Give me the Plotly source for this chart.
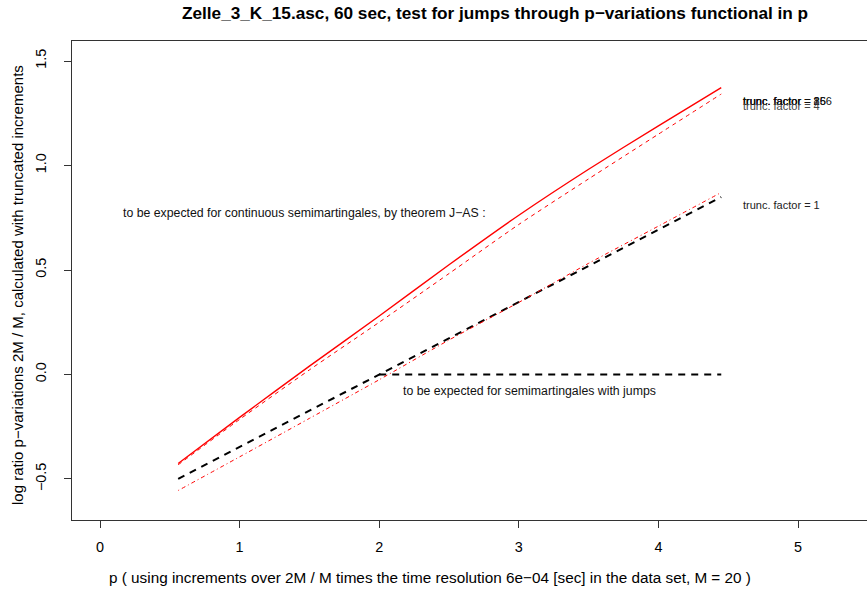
import plotly.graph_objects as go

# p grid and log ratios of the truncated p-variations (2M / M)
p = [0.56, 1.0, 1.5, 2.0, 2.5, 3.0, 3.5, 4.0, 4.45]
ratio_high = [-0.426, -0.205, 0.040, 0.280, 0.525, 0.762, 0.982, 1.190, 1.373]
ratio_f4 = [-0.432, -0.215, 0.022, 0.250, 0.483, 0.718, 0.936, 1.150, 1.342]
ratio_f1 = [-0.555, -0.394, -0.210, -0.025, 0.165, 0.345, 0.532, 0.710, 0.871]

# reference lines: continuous semimartingales and semimartingales with jumps
cont_p = [0.56, 4.45]
cont_val = [-0.499, 0.849]
jump_p = [2.0, 4.45]
jump_val = [0.0, 0.0]

# end-of-curve labels
label_text = ["trunc. factor = 256", "trunc. factor = 16", "trunc. factor = 8",
              "trunc. factor = 4", "trunc. factor = 1"]
label_y = [1.311, 1.311, 1.311, 1.284, 0.813]
label_col = ["#111111", "#111111", "#111111", "#444444", "#222222"]

x_ticks = [0, 1, 2, 3, 4, 5]
y_ticks = [-0.5, 0.0, 0.5, 1.0, 1.5]

FONT = "Liberation Sans, Arial, Helvetica, sans-serif"

fig = go.Figure()
fig.add_trace(go.Scatter(x=cont_p, y=cont_val, mode="lines",
                         line=dict(color="black", width=2, dash="7px,6px")))
fig.add_trace(go.Scatter(x=jump_p, y=jump_val, mode="lines",
                         line=dict(color="black", width=2, dash="7px,6px")))
fig.add_trace(go.Scatter(x=p, y=ratio_f1, mode="lines",
                         line=dict(color="red", width=1, dash="1px,3px,4px,3px",
                                   shape="spline", smoothing=0.6)))
fig.add_trace(go.Scatter(x=p, y=ratio_f4, mode="lines",
                         line=dict(color="red", width=1, dash="4px,4px",
                                   shape="spline", smoothing=0.6)))
fig.add_trace(go.Scatter(x=p, y=ratio_high, mode="lines",
                         line=dict(color="red", width=1.4,
                                   shape="spline", smoothing=0.6)))

ann = []
for t, yv, c in zip(label_text, label_y, label_col):
    ann.append(dict(x=4.592, y=yv, xref="x", yref="y", text=t, showarrow=False,
                    xanchor="left", yanchor="middle",
                    font=dict(family=FONT, size=11, color=c)))
ann.append(dict(x=1.465, y=0.775, xref="x", yref="y",
                text="to be expected for continuous semimartingales, by theorem J\u2212AS :",
                showarrow=False, xanchor="center", yanchor="middle",
                font=dict(family=FONT, size=12.3, color="#111111")))
ann.append(dict(x=3.073, y=-0.077, xref="x", yref="y",
                text="to be expected for semimartingales with jumps",
                showarrow=False, xanchor="center", yanchor="middle",
                font=dict(family=FONT, size=12.3, color="#111111")))
ann.append(dict(x=2.83, y=1.0585, xref="x", yref="paper",
                text="<b>Zelle_3_K_15.asc, 60 sec, test for jumps through p\u2212variations functional in p</b>",
                showarrow=False, xanchor="center", yanchor="middle",
                font=dict(family=FONT, size=17.2, color="black")))
ann.append(dict(x=2.365, y=-0.119, xref="x", yref="paper",
                text="p ( using increments over 2M / M times the time resolution 6e\u221204 [sec] in the data set, M = 20 )",
                showarrow=False, xanchor="center", yanchor="middle",
                font=dict(family=FONT, size=15.3, color="black")))
ann.append(dict(x=-0.0692, y=0.4906, xref="paper", yref="paper",
                text="log ratio p\u2212variations 2M / M, calculated with truncated increments",
                showarrow=False, textangle=-90, xanchor="center", yanchor="middle",
                font=dict(family=FONT, size=15, color="black")))

fig.update_layout(
    width=867, height=590,
    margin=dict(l=72, r=0, t=41, b=70),
    paper_bgcolor="white", plot_bgcolor="white",
    showlegend=False,
    annotations=ann,
    font=dict(family=FONT, size=14.4, color="black"),
    xaxis=dict(range=[-0.2006, 5.494], tickvals=x_ticks,
               ticktext=[str(v) for v in x_ticks],
               showgrid=False, zeroline=False,
               showline=True, linecolor="#333333", linewidth=1, mirror=True,
               ticks="outside", ticklen=7, tickcolor="#333333",
               ticklabelstandoff=7,
               tickfont=dict(family=FONT, size=14.4, color="black")),
    yaxis=dict(range=[-0.6962, 1.5957], tickvals=y_ticks,
               ticktext=["\u22120.5", "0.0", "0.5", "1.0", "1.5"],
               tickangle=-90,
               showgrid=False, zeroline=False,
               showline=True, linecolor="#333333", linewidth=1, mirror=False,
               ticks="outside", ticklen=7, tickcolor="#333333",
               ticklabelstandoff=12,
               tickfont=dict(family=FONT, size=14.4, color="black")),
)

fig.write_html("out.html")
